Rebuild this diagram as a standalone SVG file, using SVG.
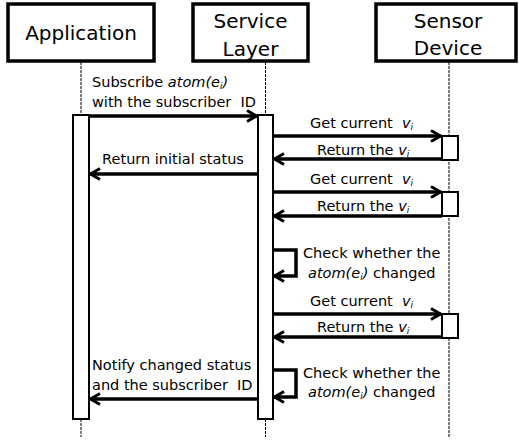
<svg xmlns="http://www.w3.org/2000/svg" width="519" height="440" viewBox="0 0 519 440">
  <style>
    .head { fill: #fff; stroke: #000; stroke-width: 3.5; }
    .htxt { font-family: "DejaVu Sans", Verdana, sans-serif; font-size: 20px; fill: #000; text-anchor: middle; }
    .life { stroke: #000; stroke-width: 1; stroke-dasharray: 3 1; fill: none; }
    .bar { fill: #fff; stroke: #000; stroke-width: 2; }
    .msg { stroke: #000; stroke-width: 3.5; fill: none; marker-end: url(#arrow); }
    .lbl { font-family: "DejaVu Sans", Verdana, sans-serif; font-size: 14.5px; fill: #000; white-space: pre; }
    .it { font-style: italic; }
    .sub { font-size: 9px; }
  </style>
  <defs>
    <marker id="arrow" markerUnits="userSpaceOnUse" viewBox="0 0 14 14" markerWidth="14" markerHeight="14" refX="12" refY="7" orient="auto">
      <path d="M2,1.5 L11.5,7 L2,12.5" fill="none" stroke="#000" stroke-width="3"/>
    </marker>
  </defs>

  <rect width="519" height="440" fill="#fff"/>

  <!-- lifeline heads, lifelines and activation bars -->
  <g id="application">
    <rect class="head" x="8" y="4" width="146" height="57"/>
    <text class="htxt" x="81" y="40">Application</text>
    <line class="life" x1="81" y1="62" x2="81" y2="115"/>
    <line class="life" x1="81" y1="419" x2="81" y2="437"/>
    <rect class="bar" x="73" y="115" width="16" height="304"/>
  </g>
  <g id="service-layer">
    <rect class="head" x="193" y="4" width="115" height="57"/>
    <text class="htxt" x="250.5" y="28">Service</text>
    <text class="htxt" x="250.5" y="56">Layer</text>
    <line class="life" x1="265.5" y1="62" x2="265.5" y2="115"/>
    <line class="life" x1="265.5" y1="419" x2="265.5" y2="437"/>
    <rect class="bar" x="258" y="115" width="15" height="304"/>
  </g>
  <g id="sensor-device">
    <rect class="head" x="376" y="4" width="140" height="57"/>
    <text class="htxt" x="448" y="28">Sensor</text>
    <text class="htxt" x="448" y="55">Device</text>
    <line class="life" x1="449" y1="62" x2="449" y2="437"/>
    <rect class="bar" x="442" y="136" width="16" height="24"/>
    <rect class="bar" x="442" y="192" width="16" height="24"/>
    <rect class="bar" x="442" y="314" width="16" height="24"/>
  </g>

  <!-- messages -->
  <g id="connectors">
    <line class="msg" x1="89" y1="116" x2="257" y2="116"/>
    <line class="msg" x1="273" y1="136" x2="441" y2="136"/>
    <line class="msg" x1="442" y1="159" x2="274" y2="159"/>
    <line class="msg" x1="258" y1="174" x2="90" y2="174"/>
    <line class="msg" x1="273" y1="192" x2="441" y2="192"/>
    <line class="msg" x1="442" y1="216" x2="274" y2="216"/>
    <polyline class="msg" points="273,250 296,250 296,276 274,276"/>
    <line class="msg" x1="273" y1="314" x2="441" y2="314"/>
    <line class="msg" x1="442" y1="337" x2="274" y2="337"/>
    <polyline class="msg" points="273,370 296,370 296,397 274,397"/>
    <line class="msg" x1="258" y1="399" x2="90" y2="399"/>
  </g>

  <!-- message labels -->
  <g id="labels">
    <text class="lbl" x="92" y="87">Subscribe <tspan class="it">atom(e<tspan class="sub" dy="2">i</tspan><tspan dy="-2">)</tspan></tspan></text>
    <text class="lbl" x="92" y="107">with the subscriber  ID</text>
    <text class="lbl" x="310" y="128">Get current  <tspan class="it">v<tspan class="sub" dy="2">i</tspan></tspan></text>
    <text class="lbl" x="317" y="155">Return the <tspan class="it">v<tspan class="sub" dy="2">i</tspan></tspan></text>
    <text class="lbl" x="173" y="164" text-anchor="middle">Return initial status</text>
    <text class="lbl" x="310" y="184">Get current  <tspan class="it">v<tspan class="sub" dy="2">i</tspan></tspan></text>
    <text class="lbl" x="317" y="211">Return the <tspan class="it">v<tspan class="sub" dy="2">i</tspan></tspan></text>
    <text class="lbl" x="303" y="258">Check whether the</text>
    <text class="lbl" x="308" y="278"><tspan class="it">atom(e<tspan class="sub" dy="2">i</tspan><tspan dy="-2">)</tspan></tspan> changed</text>
    <text class="lbl" x="310" y="306">Get current  <tspan class="it">v<tspan class="sub" dy="2">i</tspan></tspan></text>
    <text class="lbl" x="317" y="332">Return the <tspan class="it">v<tspan class="sub" dy="2">i</tspan></tspan></text>
    <text class="lbl" x="92" y="370">Notify changed status</text>
    <text class="lbl" x="92" y="390">and the subscriber  ID</text>
    <text class="lbl" x="303" y="378">Check whether the</text>
    <text class="lbl" x="308" y="397"><tspan class="it">atom(e<tspan class="sub" dy="2">i</tspan><tspan dy="-2">)</tspan></tspan> changed</text>
  </g>
</svg>
